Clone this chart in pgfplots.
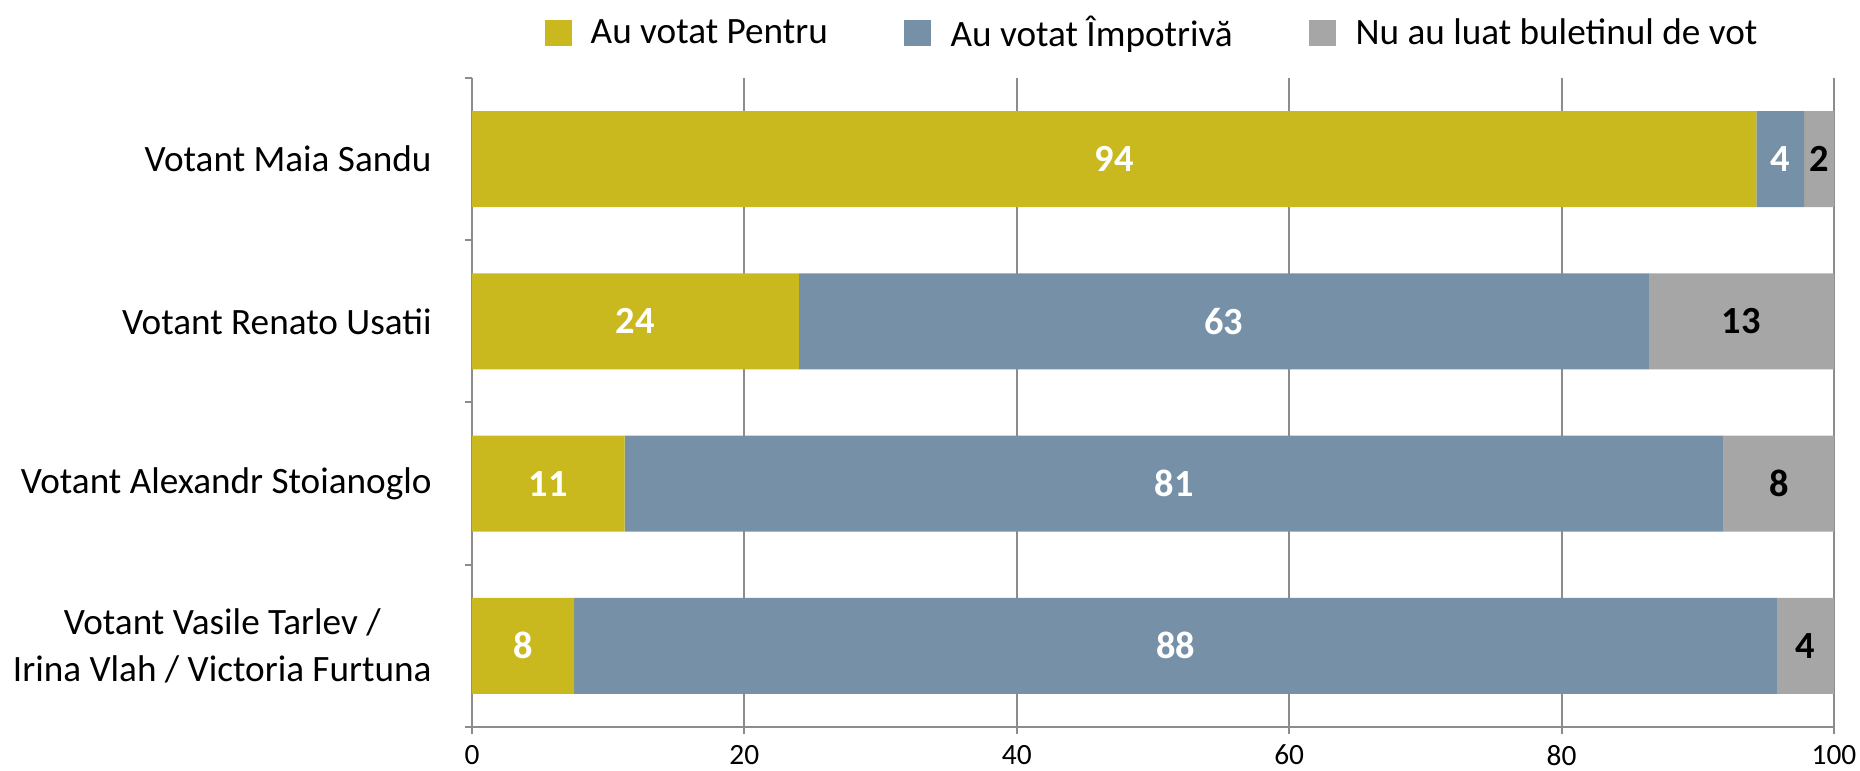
\documentclass[border=0pt]{standalone}
\usepackage{pgfplots}
\pgfplotsset{compat=1.18}
\usepackage{fontspec}
\setmainfont{Carlito}
\definecolor{cyel}{HTML}{C9B91F}
\definecolor{cblue}{HTML}{7690A8}
\definecolor{cgray}{HTML}{A6A6A6}
\definecolor{cgrid}{HTML}{8C8C8C}
\begin{document}
\begin{tikzpicture}
\begin{axis}[
  name=ax,
  scale only axis,
  width=681pt, height=324.5pt,
  xbar stacked,
  bar width=0.593,
  xmin=0, xmax=100,
  ymin=-0.5, ymax=3.5,
  xtick={0,20,...,100},
  xmajorgrids,
  grid style={cgrid, line width=1pt},
  ytick={-0.5,0.5,1.5,2.5,3.5},
  yticklabels={},
  extra y ticks={0,1,2,3},
  extra y tick labels={{Votant Vasile Tarlev /\\Irina Vlah / Victoria Furtuna},{Votant Alexandr Stoianoglo},{Votant Renato Usatii},{Votant Maia Sandu}},
  extra y tick style={major tick length=0pt, yticklabel style={anchor=east, inner xsep=0pt, xshift=-20pt, align=center, font=\fontsize{18.6}{23.5}\selectfont}},
  axis x line*=bottom,
  axis y line*=left,
  x axis line style={cgrid, line width=1.3pt},
  y axis line style={cgrid, line width=1pt},
  tick align=outside,
  major tick length=3.5pt,
  tick style={cgrid, line width=1pt},
  /pgf/number format/assume math mode=true,
  xticklabel style={font=\fontsize{14.7}{17}\selectfont, yshift=-2pt},
  legend style={at={(0.5,1.069)}, anchor=center, draw=none, fill=none, legend columns=-1,
    font=\fontsize{18.6}{22}\selectfont,
    /tikz/every odd column/.append style={column sep=7.6pt},
    /tikz/every even column/.append style={column sep=36.3pt}},
  legend image code/.code={\fill[#1] (0pt,-6.5pt) rectangle (13.5pt,6.5pt);},
]
\addplot[fill=cyel, draw=none] coordinates {(7.5,0) (11.2,1) (24.0,2) (94.3,3)};
\addplot[fill=cblue, draw=none] coordinates {(88.3,0) (80.7,1) (62.4,2) (3.5,3)};
\addplot[fill=cgray, draw=none] coordinates {(4.2,0) (8.1,1) (13.6,2) (2.2,3)};
\legend{Au votat Pentru, Au votat Împotrivă, Nu au luat buletinul de vot}
\end{axis}
\begin{axis}[
  scale only axis,
  width=681pt, height=324.5pt,
  xmin=0, xmax=100,
  ymin=-0.5, ymax=3.5,
  hide axis, clip=false,
]
\addplot[draw=none, mark=none, nodes near coords, point meta=explicit symbolic,
  every node near coord/.style={anchor=center, text=white, font=\fontsize{19.2}{22}\selectfont\bfseries}]
  coordinates {(47.15,3) [94] (96.05,3) [4] (12.0,2) [24] (55.2,2) [63] (5.6,1) [11] (51.55,1) [81] (3.75,0) [8] (51.65,0) [88]};
\addplot[draw=none, mark=none, nodes near coords, point meta=explicit symbolic,
  every node near coord/.style={anchor=center, text=black, font=\fontsize{19.2}{22}\selectfont\bfseries}]
  coordinates {(98.9,3) [2] (93.2,2) [13] (95.95,1) [8] (97.9,0) [4]};
\end{axis}
\pgfresetboundingbox
\path ([xshift=-236pt,yshift=-22pt]ax.south west) rectangle ([xshift=13pt,yshift=39pt]ax.north east);
\end{tikzpicture}
\end{document}
